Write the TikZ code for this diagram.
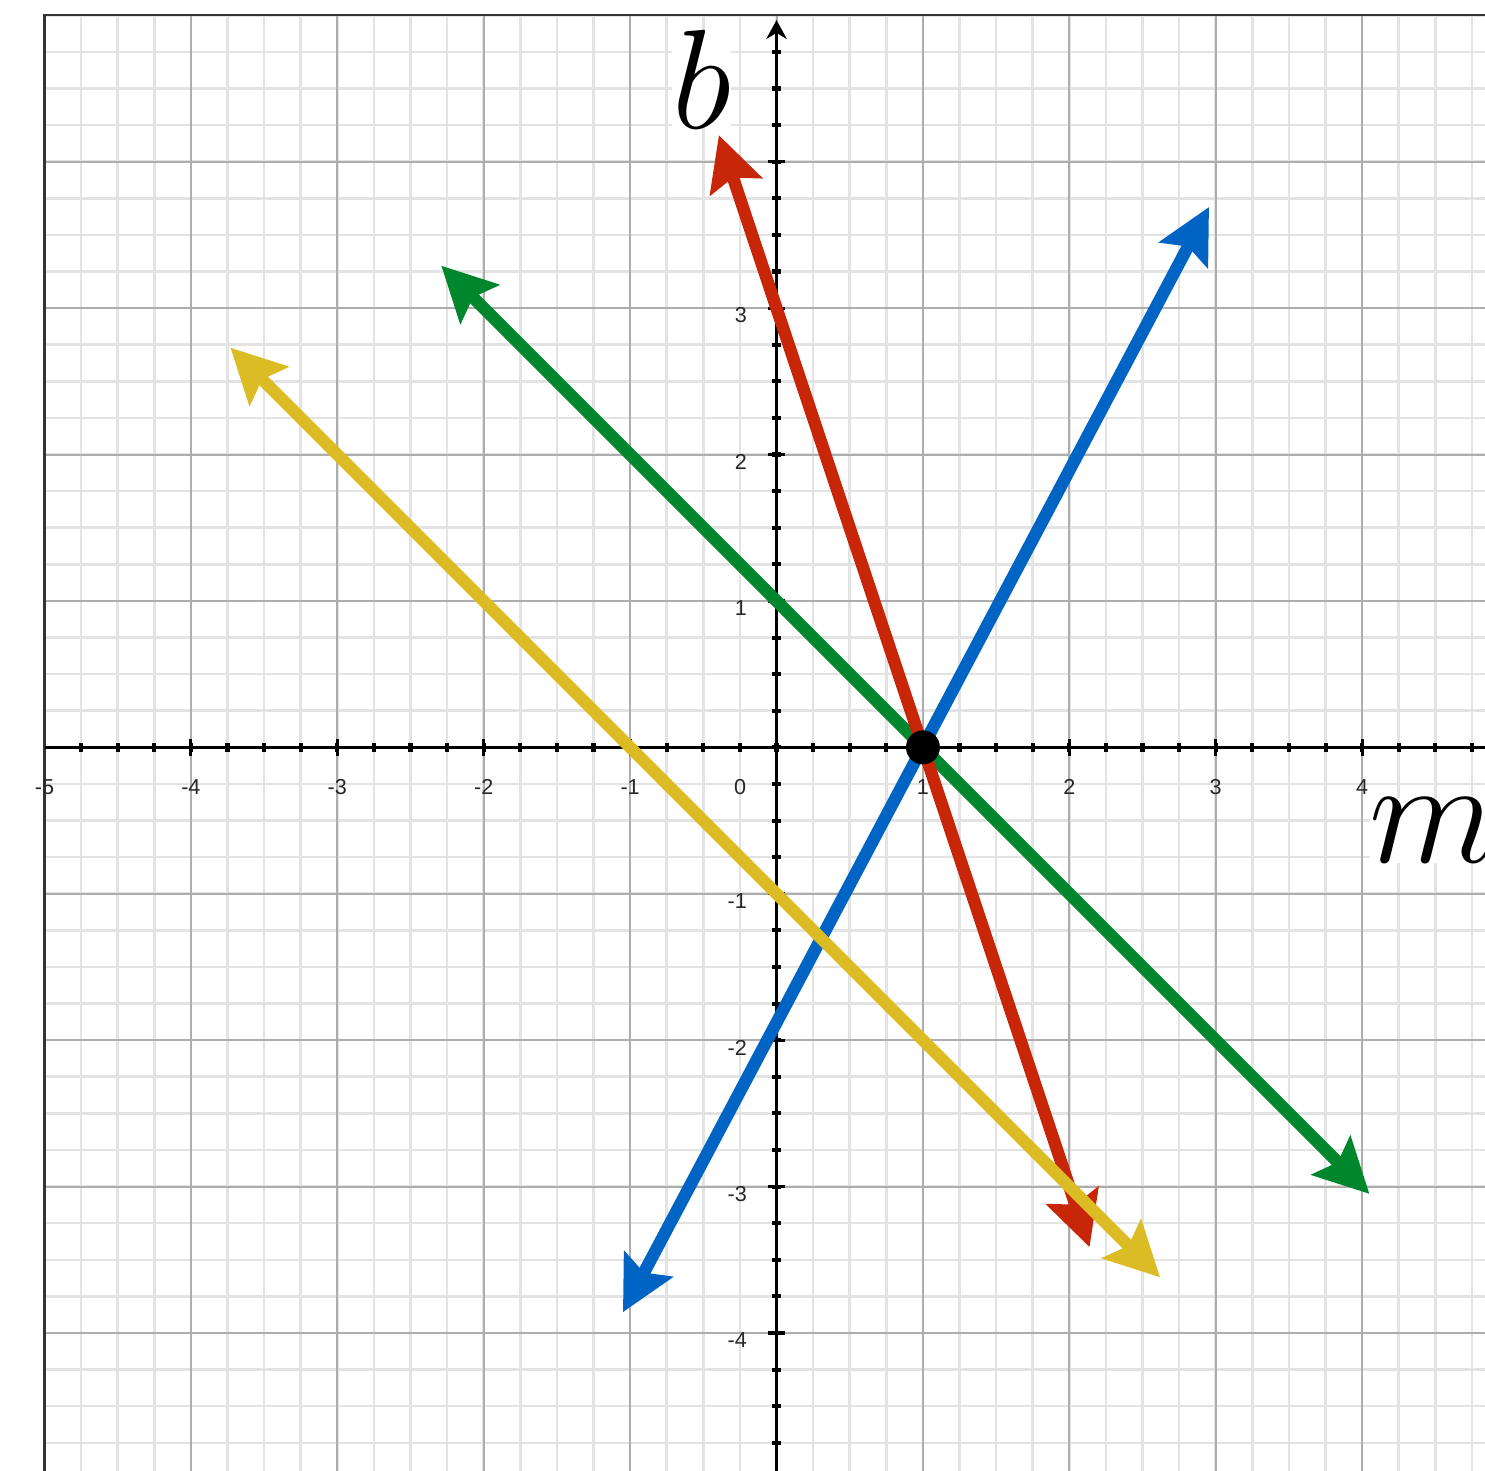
\RequirePackage{fix-cm}
\documentclass[tikz,border=0pt]{standalone}
\usepackage{fontspec}
\newfontfamily\ticksans{Liberation Sans}
\usetikzlibrary{arrows.meta}
\definecolor{slopered}{RGB}{200,38,8}
\definecolor{slopegreen}{RGB}{0,134,44}
\definecolor{slopeblue}{RGB}{0,100,196}
\definecolor{slopeyellow}{RGB}{219,188,36}

\begin{document}
\begin{tikzpicture}[>={Stealth[length=10.5pt,width=10.5pt,inset=1.8pt]},
  slopeline/.style={line width=2.4pt,<->},
  ticklabel/.style={font=\ticksans\fontsize{4.2}{5}\selectfont,text=black!85,inner sep=0pt},
  axislabel/.style={fill=white,inner sep=0pt}]
\useasboundingbox (-5.304,-4.937) rectangle (4.839,5.105);
\clip (-5.304,-4.937) rectangle (4.839,5.105);
\draw[black!11,line width=0.5pt,step=0.25] (-5,-4.94) grid (4.84,5);
\draw[black!32,line width=0.4pt,step=1] (-5,-4.94) grid (4.84,5);
\draw[black!80,line width=0.45pt] (-5,-4.94) -- (-5,5) -- (4.84,5);
\draw[line width=0.6pt] (-5,0) -- (4.84,0);
\draw[line width=0.6pt,-{Stealth[length=3.7pt,width=4pt]}] (0,-4.94) -- (0,4.968);
\foreach \i in {-19,...,19} {
  \draw[line width=0.8pt] (\i/4,-0.031) -- (\i/4,0.031);
  \draw[line width=0.8pt] (-0.031,\i/4) -- (0.031,\i/4);
}
\foreach \i in {-4,...,4} {
  \draw[line width=0.6pt] (\i,-0.06) -- (\i,0.06);
  \draw[line width=0.6pt] (-0.06,\i) -- (0.06,\i);
}
\foreach \x [count=\k] in {-5,-4,-3,-2,-1,1,2,3,4}
  \node[ticklabel] (mtick\k) at (\x,-0.27) {\x};
\foreach \y [count=\k] in {-4,-3,-2,-1,1,2,3,4}
  \node[ticklabel,anchor=east] (btick\k) at (-0.195,\y-0.05) {\y};
\node[ticklabel,anchor=east] (zerotick) at (-0.2,-0.27) {0};
\node[axislabel,font=\fontsize{27.5}{30}\selectfont] (blabel) at (-0.51,4.563) {$b$};
\node[axislabel,font=\fontsize{29}{32}\selectfont] (mlabel) at (4.488,-0.567) {$m$};
\coordinate (greenA) at (-2.29,3.29);
\coordinate (greenB) at (4.05,-3.05);
\coordinate (redA) at (-0.394,4.182);
\coordinate (redB) at (2.138,-3.414);
\coordinate (blueA) at (-1.049,-3.858);
\coordinate (blueB) at (2.954,3.691);
\coordinate (yellowA) at (-3.73,2.73);
\coordinate (yellowB) at (2.62,-3.62);
\draw[slopeline,slopegreen] (greenA) -- (greenB);
\draw[slopeline,slopered] (redA) -- (redB);
\draw[slopeline,slopeblue] (blueA) -- (blueB);
\draw[slopeline,slopeyellow] (yellowA) -- (yellowB);
\node[circle,fill=black,minimum size=0.232cm,inner sep=0pt] (meet) at (1,0) {};
\end{tikzpicture}
\end{document}
